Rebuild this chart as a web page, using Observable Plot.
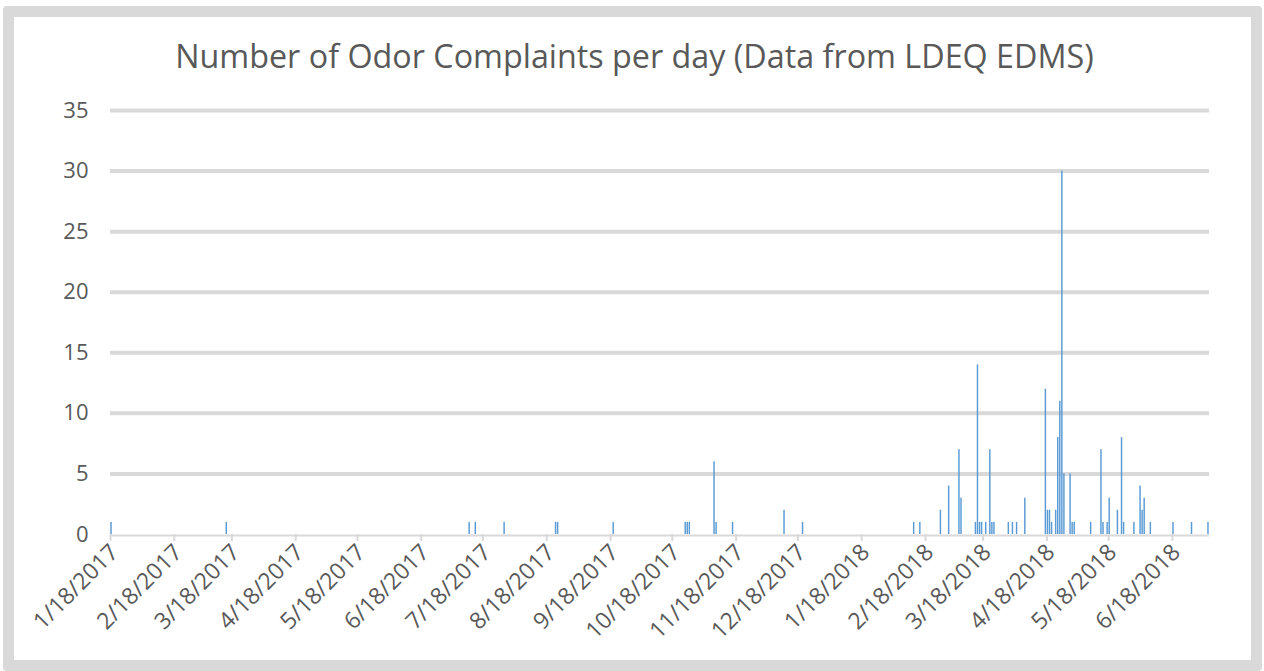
<!DOCTYPE html>
<html>
<head>
<meta charset="utf-8">
<script src="https://cdn.jsdelivr.net/npm/d3@7"></script>
<script src="https://cdn.jsdelivr.net/npm/@observablehq/plot@0.6"></script>
<style>
  html, body { margin: 0; padding: 0; background: #ffffff; }
  #frame {
    position: absolute; left: 3px; top: 6px; width: 1259px; height: 665px;
    box-sizing: border-box; border: 11px solid #d9d9d9; border-radius: 4px; background: #ffffff;
    overflow: hidden;
  }
  #title {
    height: 60px; padding-top: 8px; line-height: 60px; text-align: center;
    font-family: "Open Sans", sans-serif; font-size: 32.3px; color: #595959; white-space: nowrap;
    padding-left: 4px;
  }
</style>
</head>
<body>
<div id="frame">
  <div id="title">Number of Odor Complaints per day (Data from LDEQ EDMS)</div>
  <div id="chart"></div>
</div>
<script>
const titleText = "Number of Odor Complaints per day (Data from LDEQ EDMS)";

const dates = [
  "2017-01-18","2017-03-15","2017-07-11","2017-07-14","2017-07-28","2017-08-22","2017-08-23","2017-09-19",
  "2017-10-24","2017-10-25","2017-10-26","2017-11-07","2017-11-08","2017-11-16","2017-12-11","2017-12-20",
  "2018-02-12","2018-02-15","2018-02-25","2018-03-01","2018-03-06","2018-03-07","2018-03-14","2018-03-15",
  "2018-03-16","2018-03-17","2018-03-19","2018-03-21","2018-03-22","2018-03-23","2018-03-30",
  "2018-04-01","2018-04-03","2018-04-07","2018-04-17","2018-04-18","2018-04-19","2018-04-20","2018-04-22",
  "2018-04-23","2018-04-24","2018-04-25","2018-04-26","2018-04-29","2018-04-30",
  "2018-05-01","2018-05-09","2018-05-14","2018-05-15","2018-05-17","2018-05-18","2018-05-22","2018-05-24",
  "2018-05-25","2018-05-30",
  "2018-06-02","2018-06-03","2018-06-04","2018-06-07","2018-06-18","2018-06-27","2018-07-05"
];
const counts = [
  1,1,1,1,1,1,1,1,
  1,1,1,6,1,1,2,1,
  1,1,2,4,7,3,1,14,
  1,1,1,7,1,1,1,
  1,1,3,12,2,2,1,2,
  8,11,30,5,5,1,
  1,1,7,1,1,3,2,8,
  1,1,
  4,2,3,1,1,1,1
];
const xTickLabels = [
  "1/18/2017","2/18/2017","3/18/2017","4/18/2017","5/18/2017","6/18/2017","7/18/2017","8/18/2017",
  "9/18/2017","10/18/2017","11/18/2017","12/18/2017","1/18/2018","2/18/2018","3/18/2018","4/18/2018",
  "5/18/2018","6/18/2018"
];
const yTicks = [0, 5, 10, 15, 20, 25, 30, 35];
const xDomain = ["2017-01-18", "2018-07-06"];

const data = dates.map((d, i) => ({date: new Date(d), count: counts[i]}));
const parseLabel = s => { const [m, d, y] = s.split("/").map(Number); return new Date(Date.UTC(y, m - 1, d)); };
const tickDates = xTickLabels.map(parseLabel);
const fmt = d => `${d.getUTCMonth() + 1}/${d.getUTCDate()}/${d.getUTCFullYear()}`;

const chart = Plot.plot({
  width: 1237,
  height: 575,
  marginLeft: 96,
  marginRight: 42,
  marginTop: 25,
  marginBottom: 126,
  style: {fontFamily: "Open Sans, sans-serif", fontSize: "22px", color: "#595959", background: "#ffffff", overflow: "visible"},
  x: {type: "utc", domain: xDomain.map(d => new Date(d)), label: null},
  y: {domain: [0, 35], label: null},
  marks: [
    Plot.ruleY(yTicks.filter(d => d > 0), {stroke: "#d9d9d9", strokeWidth: 4}),
    Plot.ruleY([0], {stroke: "#d9d9d9", strokeWidth: 2, dy: 1}),
    Plot.rectY(data, {x: "date", y: "count", interval: "day", fill: "#5b9bd5", insetLeft: 0.3, insetRight: 0.3}),
    Plot.axisX(tickDates, {tickFormat: fmt, tickSize: 7, stroke: "#d9d9d9", strokeWidth: 2, text: null, label: null}),
    Plot.axisX(tickDates, {tickFormat: fmt, tickRotate: -45, tickSize: 0, tickPadding: 14, dx: 4, fontSize: 23, fill: "#595959", label: null}),
    Plot.axisY(yTicks, {tickSize: 0, tickPadding: 22, fontSize: 22, fill: "#595959", label: null})
  ]
});
document.getElementById("chart").appendChild(chart);
</script>
</body>
</html>
